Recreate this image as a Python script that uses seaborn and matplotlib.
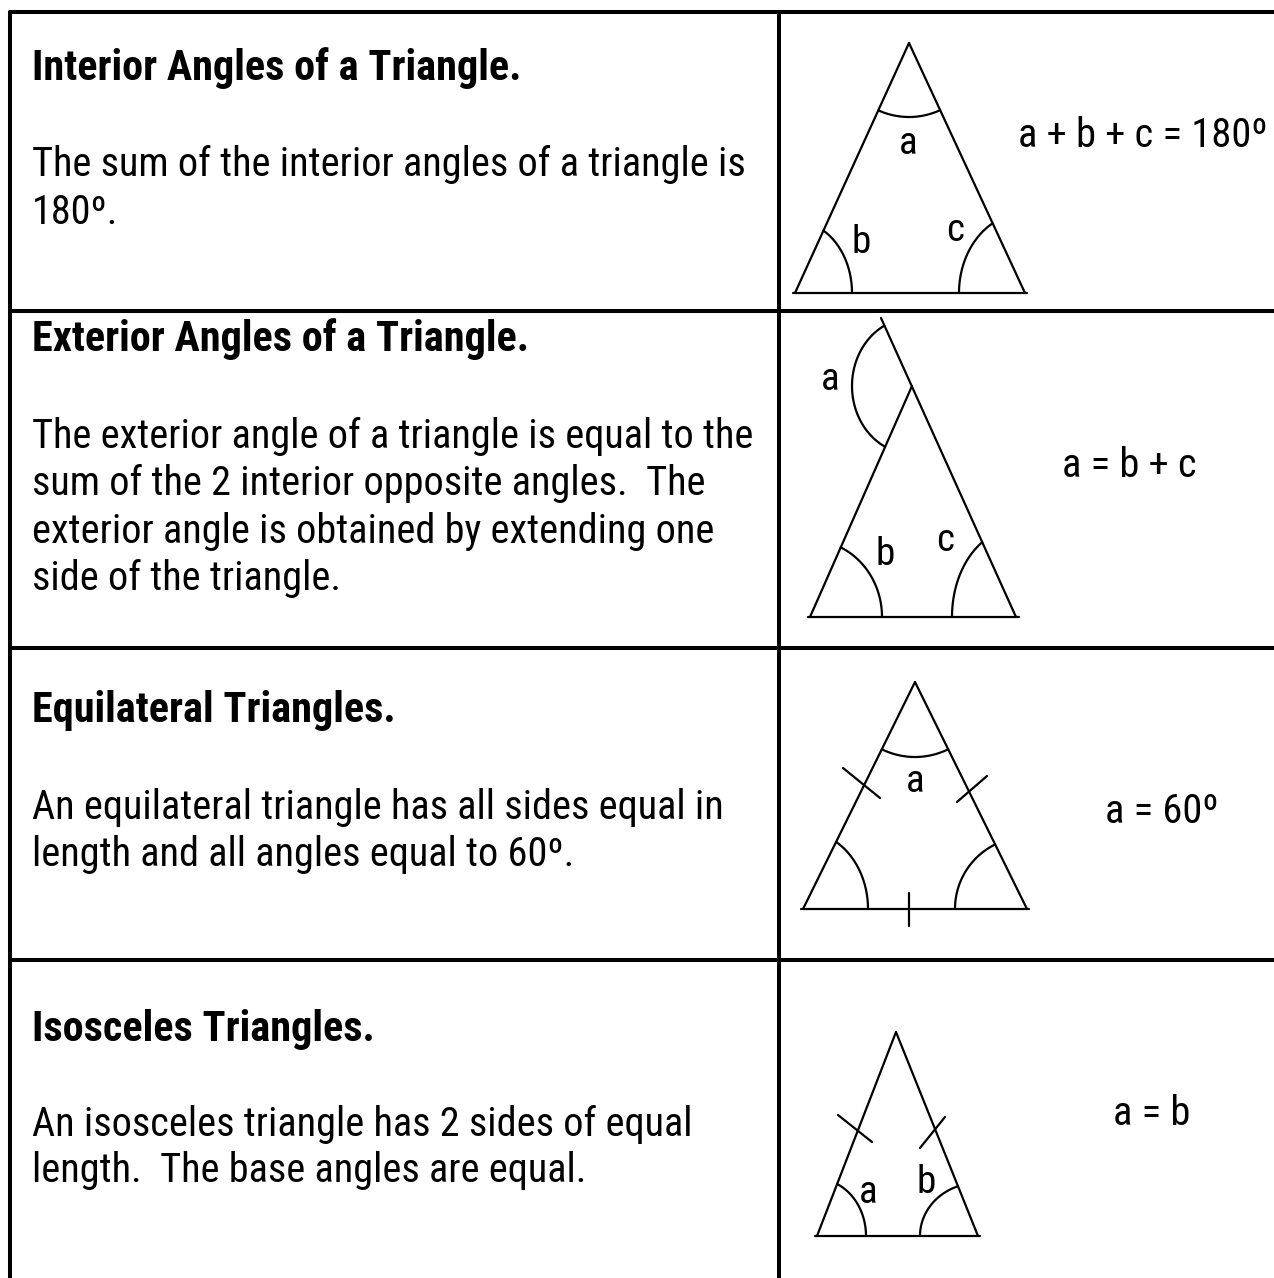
import numpy as np
import matplotlib
matplotlib.use("Agg")
import matplotlib.pyplot as plt
from matplotlib import font_manager
import seaborn as sns

# ---------------- content ----------------
titles = ["Interior Angles of a Triangle.",
          "Exterior Angles of a Triangle.",
          "Equilateral Triangles.",
          "Isosceles Triangles."]
bodies = [["The sum of the interior angles of a triangle is", "180º."],
          ["The exterior angle of a triangle is equal to the",
           "sum of the 2 interior opposite angles.  The",
           "exterior angle is obtained by extending one",
           "side of the triangle."],
          ["An equilateral triangle has all sides equal in",
           "length and all angles equal to 60º."],
          ["An isosceles triangle has 2 sides of equal",
           "length.  The base angles are equal."]]
formulas = ["a + b + c = 180º", "a = b + c", "a = 60º", "a = b"]

# ---------------- geometry (pixels, y down) ----------------
row_rules_y = [12, 311, 648, 960]
col_rules_x = [10, 779]
apex_x = [909, 912, 915, 896]
apex_y = [43, 386, 682, 1032]
base_y = [293, 617, 909, 1236]
base_left_x = [795, 810, 803, 817]
base_right_x = [1025, 1016, 1027, 978]
base_line_x0 = [793, 808, 801, 815]
base_line_x1 = [1027, 1019, 1029, 980]
extension_end = (881, 318)           # exterior-angle extension of triangle 2

# angle arcs: (triangle, vertex, side1, side2, rx, ry)
arcs = [(0, "A", "L", "R", 74, 74), (0, "L", "R", "A", 57, 72), (0, "R", "L", "A", 66, 80),
        (1, "A", "E", "L", 60, 68), (1, "L", "R", "A", 72, 77), (1, "R", "L", "A", 64, 88),
        (2, "A", "L", "R", 75, 75), (2, "L", "R", "A", 65, 78), (2, "R", "L", "A", 72, 72),
        (3, "L", "R", "A", 49, 57), (3, "R", "L", "A", 58, 53)]

# equal-side tick marks
tick_x0 = [843, 957, 909, 838, 920]
tick_y0 = [768, 802, 893, 1115, 1148]
tick_x1 = [880, 987, 909, 872, 945]
tick_y1 = [798, 776, 926, 1142, 1117]

# angle labels
label_text = ["a", "b", "c", "a", "b", "c", "a", "a", "b"]
label_x = [908, 861, 955, 830, 885, 945, 915, 868, 926]
label_y = [154, 253, 241, 390, 565, 551, 792, 1203, 1193]

title_base_y = [80, 351, 722, 1041]
body_base_y = [[176, 224], [448, 495, 543, 590], [819, 866], [1136, 1182]]
formula_x = [1018, 1062, 1105, 1113]
formula_y = [147, 477, 823, 1125]

# ---------------- style ----------------
sns.set_theme(style="white")


def pick_family(cands):
    for f in cands:
        try:
            font_manager.findfont(font_manager.FontProperties(family=f),
                                  fallback_to_default=False)
            return f
        except Exception:
            continue
    return "DejaVu Sans"


FAM = pick_family(["Liberation Sans Narrow", "Arial Narrow", "Roboto Condensed",
                   "DejaVu Sans Condensed", "Liberation Sans"])
plt.rcParams["font.family"] = [FAM, "DejaVu Sans"]

W, H = 1274, 1278
fig = plt.figure(figsize=(W / 100, H / 100), dpi=100)
fig.patch.set_facecolor("white")
ax = fig.add_axes([0, 0, 1, 1])
ax.set_facecolor("white")

LW_TABLE = 2.9
LW = 1.6


def poly(xs, ys, lw=LW):
    sns.lineplot(x=np.asarray(xs, float), y=np.asarray(ys, float), sort=False,
                 estimator=None, color="black", linewidth=lw, ax=ax, legend=False)


# table rules
for y in row_rules_y:
    poly([col_rules_x[0], W + 5], [y, y], LW_TABLE)
for x in col_rules_x:
    poly([x, x], [row_rules_y[0], H + 5], LW_TABLE)

# triangles
pts = []
for i in range(4):
    p = {"A": (apex_x[i], apex_y[i]), "L": (base_left_x[i], base_y[i]),
         "R": (base_right_x[i], base_y[i])}
    if i == 1:
        p["E"] = extension_end
    pts.append(p)
    poly([base_line_x0[i], base_line_x1[i]], [base_y[i], base_y[i]])
    poly([p["L"][0], p["A"][0]], [p["L"][1], p["A"][1]])
    top = p.get("E", p["A"])
    poly([p["R"][0], top[0]], [p["R"][1], top[1]])


def arc_pts(v, p1, p2, rx, ry, n=48):
    t1 = np.arctan2((p1[1] - v[1]) / ry, (p1[0] - v[0]) / rx)
    t2 = np.arctan2((p2[1] - v[1]) / ry, (p2[0] - v[0]) / rx)
    d = (t2 - t1 + np.pi) % (2 * np.pi) - np.pi
    t = t1 + np.linspace(0, d, n)
    return v[0] + rx * np.cos(t), v[1] + ry * np.sin(t)


for (i, vk, k1, k2, rx, ry) in arcs:
    xs, ys = arc_pts(pts[i][vk], pts[i][k1], pts[i][k2], rx, ry)
    poly(xs, ys)

for x0, y0, x1, y1 in zip(tick_x0, tick_y0, tick_x1, tick_y1):
    poly([x0, x1], [y0, y1])

ax.set_xlim(0, W)
ax.set_ylim(H, 0)
ax.axis("off")

# ---------------- text ----------------
fig.canvas.draw()
renderer = fig.canvas.get_renderer()


def fitted_size(s, target_px, weight="normal", base=30.0):
    t = ax.text(0, 0, s, fontsize=base, fontweight=weight)
    w = t.get_window_extent(renderer).width
    t.remove()
    return base * target_px / w


body_size = fitted_size("The exterior angle of a triangle is equal to the", 720)
title_size = fitted_size("Interior Angles of a Triangle.", 490, weight="bold")
formula_size = fitted_size("a + b + c = 180º", 250)

for i in range(4):
    ax.text(32, title_base_y[i], titles[i], fontsize=title_size, fontweight="bold",
            ha="left", va="baseline", color="black")
    for line, y in zip(bodies[i], body_base_y[i]):
        ax.text(32, y, line, fontsize=body_size, ha="left", va="baseline", color="black")
    ax.text(formula_x[i], formula_y[i], formulas[i], fontsize=formula_size,
            ha="left", va="baseline", color="black")

for s, x, y in zip(label_text, label_x, label_y):
    ax.text(x, y, s, fontsize=body_size * 0.97, ha="center", va="baseline", color="black")

fig.savefig("out.png", dpi=100, facecolor="white")
